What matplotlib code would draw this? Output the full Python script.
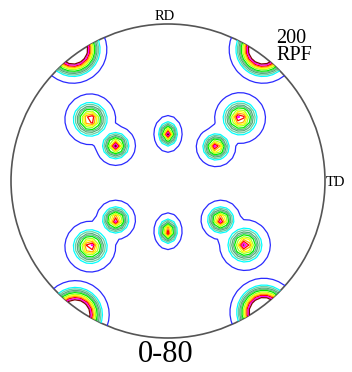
import numpy as np
import matplotlib
matplotlib.use("Agg")
import matplotlib.pyplot as plt
from matplotlib.patches import Circle

# pole positions (unit circle, RD up, TD right)
peak_x = [0.00, 0.00, -0.495, -0.333, -0.333, -0.495, 0.459, 0.306, 0.336, 0.490,
          -0.605, 0.605, -0.590, 0.610]
peak_y = [0.300, -0.320, 0.393, 0.225, -0.248, -0.418, 0.401, 0.217, -0.248, -0.408,
          0.838, 0.838, -0.850, -0.835]
peak_amp = [1.0, 1.0, 1.0, 1.0, 1.0, 1.0, 1.0, 1.0, 1.0, 1.0,
            1.6, 1.6, 1.6, 1.6]
peak_rx = [0.10, 0.10, 0.18, 0.14, 0.14, 0.18, 0.18, 0.14, 0.14, 0.18,
           0.23, 0.23, 0.23, 0.23]
peak_ry = [0.13, 0.13, 0.18, 0.14, 0.14, 0.18, 0.18, 0.14, 0.14, 0.18,
           0.23, 0.23, 0.23, 0.23]

levels = [0.10, 0.40, 0.467, 0.533, 0.583, 0.633, 0.70, 0.75, 0.80, 0.85, 0.90, 0.95]
level_colors = ['#2a2aff', '#00ffff', '#66d0a0', '#55aa77', '#66bb88', '#00ee00',
                '#aaff22', '#ffff00', '#ffaa00', '#ff0000', '#ff00ff', '#800000']

labels = {'rd': 'RD', 'td': 'TD', 'max': '200\nRPF', 'range': '0-80'}

fig = plt.figure(figsize=(3.52, 3.72), dpi=100)
ax = fig.add_axes([0, 0, 1, 1])
ax.set_xlim((0 - 168) / 157, (352 - 168) / 157)
ax.set_ylim((181 - 372) / 157, 181 / 157)
ax.axis('off')

g = np.linspace(-1.15, 1.15, 63)
X, Y = np.meshgrid(g, g)
Z = np.full(X.shape, -1.0)
for px, py, a, rx, ry in zip(peak_x, peak_y, peak_amp, peak_rx, peak_ry):
    d = np.sqrt(((X - px) / rx) ** 2 + ((Y - py) / ry) ** 2)
    Z = np.maximum(Z, a * (1 - d))

rim = Circle((0, 0), 1.0, transform=ax.transData)
cs = ax.contour(X, Y, Z, levels=levels, colors=level_colors, linewidths=0.9)
cs.set_clip_path(rim)

ax.add_patch(Circle((0, 0), 1.0, fill=False, ec='#555555', lw=1.2))

serif = 'Liberation Serif'
fig.text(165 / 352, 1 - 17 / 372, labels['rd'], ha='center', va='center', fontsize=10.5, family=serif)
fig.text(326 / 352, 1 - 183 / 372, labels['td'], ha='left', va='center', fontsize=10.5, family=serif)
fig.text(276 / 352, 1 - 47 / 372, labels['max'], ha='left', va='center', fontsize=14.5,
         family=serif, linespacing=0.9)
fig.text(166 / 352, 1 - 355 / 372, labels['range'], ha='center', va='center', fontsize=22, family=serif)

fig.savefig('out.png', dpi=100)
